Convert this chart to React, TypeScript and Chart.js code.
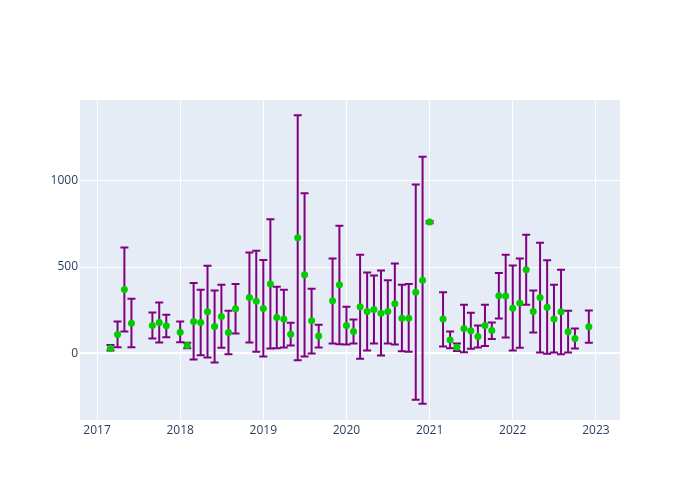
import React, { useEffect, useRef } from "react";
import { Chart, registerables } from "chart.js";

Chart.register(...registerables);

const dates = [
  "2017-03","2017-04","2017-05","2017-06","2017-09","2017-10","2017-11",
  "2018-01","2018-02","2018-03","2018-04","2018-05","2018-06","2018-07","2018-08","2018-09","2018-11","2018-12",
  "2019-01","2019-02","2019-03","2019-04","2019-05","2019-06","2019-07","2019-08","2019-09","2019-11","2019-12",
  "2020-01","2020-02","2020-03","2020-04","2020-05","2020-06","2020-07","2020-08","2020-09","2020-10","2020-11","2020-12",
  "2021-01","2021-03","2021-04","2021-05","2021-06","2021-07","2021-08","2021-09","2021-10","2021-11","2021-12",
  "2022-01","2022-02","2022-03","2022-04","2022-05","2022-06","2022-07","2022-08","2022-09","2022-10","2022-12",
];

const values = [
  29, 108, 370, 174, 161, 178, 159,
  122, 44, 184, 178, 240, 155, 213, 120, 258, 323, 302,
  259, 401, 207, 199, 110, 670, 455, 188, 99, 304, 397,
  161, 126, 269, 242, 254, 232, 242, 287, 203, 203, 354, 424,
  761, 198, 77, 35, 143, 130, 97, 161, 132, 333, 332,
  261, 292, 484, 242, 323, 267, 199, 240, 124, 85, 153,
];

const upper = [
  48, 184, 614, 316, 236, 294, 223,
  184, 60, 407, 368, 508, 364, 397, 246, 401, 585, 595,
  541, 777, 385, 368, 176, 1382, 928, 374, 165, 550, 740,
  269, 196, 572, 469, 451, 480, 424, 521, 397, 401, 980, 1141,
  768, 354, 126, 56, 281, 234, 161, 281, 178, 465, 572,
  509, 550, 688, 364, 641, 539, 397, 484, 246, 143, 248,
];

const lower = [
  15, 35, 126, 35, 85, 62, 93,
  64, 29, -37, -12, -25, -54, 31, -6, 114, 62, 9,
  -20, 27, 29, 33, 44, -41, -20, -2, 33, 56, 52,
  50, 56, -33, 15, 56, -14, 56, 50, 11, 9, -270, -293,
  754, 39, 29, 13, 6, 25, 33, 42, 83, 201, 91,
  15, 31, 281, 120, 4, -4, 4, -6, 4, 27, 60,
];

const xTickValues = [2017, 2018, 2019, 2020, 2021, 2022, 2023];
const yTickValues = [0, 500, 1000];

function toDecimalYear(s: string): number {
  const [y, m] = s.split("-").map(Number);
  const start = Date.UTC(y, 0, 1);
  const end = Date.UTC(y + 1, 0, 1);
  const t = Date.UTC(y, m - 1, 1);
  return y + (t - start) / (end - start);
}

const xs = dates.map(toDecimalYear);

const bgPlugin = {
  id: "plotBg",
  beforeDraw(chart: any) {
    const { ctx, chartArea } = chart;
    ctx.save();
    ctx.fillStyle = "#E5ECF6";
    ctx.fillRect(chartArea.left, chartArea.top, chartArea.right - chartArea.left, chartArea.bottom - chartArea.top);
    ctx.restore();
  },
};

const errorBarPlugin = {
  id: "errorBars",
  beforeDatasetsDraw(chart: any) {
    const { ctx } = chart;
    const xScale = chart.scales.x;
    const yScale = chart.scales.y;
    ctx.save();
    ctx.strokeStyle = "purple";
    ctx.lineWidth = 2;
    for (let i = 0; i < xs.length; i++) {
      const px = xScale.getPixelForValue(xs[i]);
      const pHi = yScale.getPixelForValue(upper[i]);
      const pLo = yScale.getPixelForValue(lower[i]);
      ctx.beginPath();
      ctx.moveTo(px, pHi);
      ctx.lineTo(px, pLo);
      ctx.moveTo(px - 4, pHi);
      ctx.lineTo(px + 4, pHi);
      ctx.moveTo(px - 4, pLo);
      ctx.lineTo(px + 4, pLo);
      ctx.stroke();
    }
    ctx.restore();
  },
};

export default function App() {
  const ref = useRef<HTMLCanvasElement>(null);

  useEffect(() => {
    if (!ref.current) return;
    const chart = new Chart(ref.current, {
      type: "scatter",
      data: {
        datasets: [
          {
            data: xs.map((x, i) => ({ x, y: values[i] })),
            backgroundColor: "rgb(0,204,0)",
            borderColor: "rgb(0,204,0)",
            pointRadius: 3.5,
            pointBorderWidth: 0,
            showLine: false,
          },
        ],
      },
      options: {
        animation: false,
        responsive: false,
        maintainAspectRatio: false,
        layout: { padding: { left: 0, right: 80, top: 100, bottom: 0 } },
        plugins: { legend: { display: false }, tooltip: { enabled: false } },
        scales: {
          x: {
            type: "linear",
            min: 2016.795,
            max: 2023.29,
            afterBuildTicks: (s: any) => {
              s.ticks = xTickValues.map((v) => ({ value: v }));
            },
            afterFit: (s: any) => {
              s.height = 80;
            },
            border: { display: false },
            grid: { color: "#ffffff", lineWidth: 1, drawTicks: false },
            ticks: {
              color: "#2a3f5f",
              font: { family: "'Open Sans', verdana, arial, sans-serif", size: 12 },
              padding: 3,
              maxRotation: 0,
              autoSkip: false,
              callback: (v: any) => String(v),
            },
          },
          y: {
            type: "linear",
            min: -388,
            max: 1470,
            afterBuildTicks: (s: any) => {
              s.ticks = yTickValues.map((v) => ({ value: v }));
            },
            afterFit: (s: any) => {
              s.width = 80;
            },
            border: { display: false },
            grid: {
              color: "#ffffff",
              lineWidth: (c: any) => (c.tick && c.tick.value === 0 ? 2 : 1),
              drawTicks: false,
            },
            ticks: {
              color: "#2a3f5f",
              font: { family: "'Open Sans', verdana, arial, sans-serif", size: 12 },
              padding: 2,
              callback: (v: any) => String(v),
            },
          },
        },
      },
      plugins: [bgPlugin, errorBarPlugin],
    });
    return () => chart.destroy();
  }, []);

  return (
    <div style={{ position: "fixed", left: 0, top: 0, width: 700, height: 500, background: "#fff" }}>
      <canvas ref={ref} width={700} height={500} style={{ width: 700, height: 500 }} />
    </div>
  );
}
